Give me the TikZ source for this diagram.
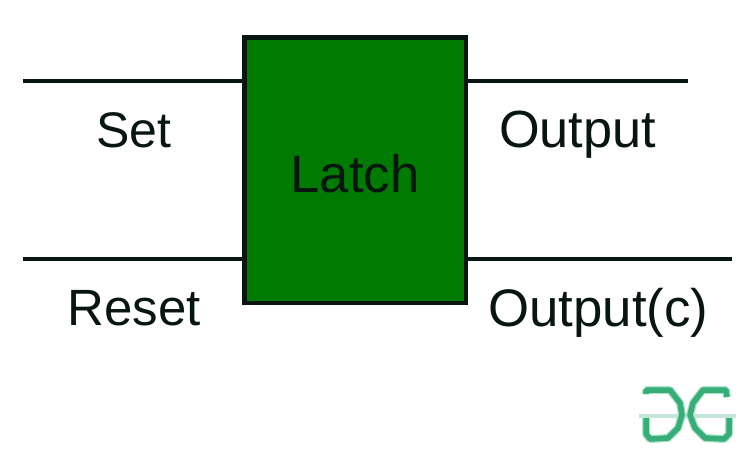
\documentclass[tikz,border=0pt]{standalone}
\usepackage{fontspec}
\setmainfont{Liberation Sans}
\definecolor{latchgreen}{HTML}{007A00}
\definecolor{inkdark}{HTML}{081610}
\definecolor{logogreen}{HTML}{35AE78}
\tikzset{
  x=1pt,y=-1pt,
  wire/.style={draw=inkdark,line width=4.4pt},
  lbl/.style={text=inkdark,font=\fontsize{#1}{60}\selectfont,inner sep=0pt,anchor=base},
  lbl/.default=51,
  logohalo/.style={draw=logogreen!40!white,line width=8pt,line join=bevel},
  logo/.style={draw=logogreen,line width=5.5pt,line join=bevel}
}
\begin{document}
\begin{tikzpicture}
\useasboundingbox (0,0) rectangle (755,451);
\node[draw=inkdark,fill=latchgreen,line width=4.8pt,minimum width=221.5pt,minimum height=265.5pt,inner sep=0pt,outer sep=0pt] (latch) at (355.2,170.2) {};
\node[lbl=52.6] (latchtext) at (355,192) {Latch};
\coordinate (setend) at (23,81);
\coordinate (resetend) at (23,259);
\coordinate (outend) at (688,81);
\coordinate (outcend) at (732,259);
\draw[wire] (setend) -- (setend -| latch.west);
\draw[wire] (resetend) -- (resetend -| latch.west);
\draw[wire] (outend) -- (outend -| latch.east);
\draw[wire] (outcend) -- (outcend -| latch.east);
\node[lbl=50] (set) at (134,147) {Set};
\node[lbl=51] (reset) at (134,325) {Reset};
\node[lbl=52.3] (output) at (577.5,147) {Output};
\node[lbl=52.8] (outputc) at (598.5,326) {Output(c)};
% logo
\draw[draw=logogreen!30!white,line width=4pt] (639,416) -- (736,416);
\foreach \s in {logohalo,logo}{
\draw[\s] (646,394) -- (646,390) -- (670,390) -- (680,403) -- (682,415) -- (678,428) -- (668,438) -- (650,439) -- (646,434) -- (646,418);
\draw[\s] (727,397) -- (726,390) -- (703,390) -- (693,403) -- (690,415) -- (695,428) -- (705,438) -- (724,439) -- (729,434) -- (729,418);
}
\end{tikzpicture}
\end{document}
